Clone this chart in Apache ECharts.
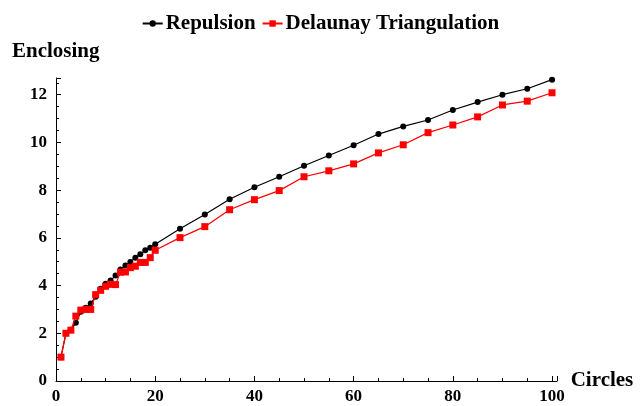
<!DOCTYPE html>
<html>
<head>
<meta charset="utf-8">
<script src="https://cdn.jsdelivr.net/npm/echarts@6/dist/echarts.min.js"></script>
<style>html,body{margin:0;padding:0;background:#fff}#c{width:641px;height:406px}</style>
</head>
<body>
<div id="c"></div>
<script>
const repulsionX = [1,2,3,4,5,6,7,8,9,10,11,12,13,14,15,16,17,18,19,20,25,30,35,40,45,50,55,60,65,70,75,80,85,90,95,100];
const repulsionY = [1.0,2.0,2.15,2.44,2.90,3.07,3.25,3.53,3.87,4.08,4.21,4.42,4.67,4.84,4.99,5.17,5.31,5.48,5.59,5.73,6.38,6.98,7.62,8.12,8.56,9.02,9.45,9.88,10.35,10.67,10.94,11.36,11.69,12.0,12.25,12.63];
const delaunayX = [1,2,3,4,5,6,7,8,9,10,11,12,13,14,15,16,17,18,19,20,25,30,35,40,45,50,55,60,65,70,75,80,85,90,95,100];
const delaunayY = [1.0,2.0,2.13,2.72,2.97,3.0,3.0,3.62,3.80,3.97,4.05,4.04,4.56,4.57,4.75,4.81,4.97,4.97,5.17,5.48,6.01,6.47,7.18,7.60,7.98,8.56,8.81,9.10,9.56,9.90,10.41,10.73,11.07,11.57,11.73,12.08];
const seriesNames = ['Repulsion', 'Delaunay Triangulation'];
const xTitle = 'Circles';
const yTitle = 'Enclosing';

const font = '"Liberation Serif", "DejaVu Serif", serif';
const chart = echarts.init(document.getElementById('c'), null, {renderer: 'canvas'});
const axisCommon = {
  axisLine: {show: true, lineStyle: {color: '#000', width: 1}},
  axisTick: {show: true, inside: true, length: 5, lineStyle: {color: '#000', width: 1}},
  minorTick: {show: true, splitNumber: 4, length: 3, lineStyle: {color: '#000', width: 1}},
  splitLine: {show: false},
  axisLabel: {color: '#000', fontFamily: font, fontWeight: 'bold', fontSize: 17},
  nameTextStyle: {color: '#000', fontFamily: font, fontWeight: 'bold', fontSize: 21}
};
chart.setOption({
  animation: false,
  backgroundColor: '#fff',
  textStyle: {fontFamily: font},
  legend: {
    top: 8, left: 'center',
    itemWidth: 20, itemHeight: 8, itemGap: 6,
    textStyle: {color: '#000', fontFamily: font, fontWeight: 'bold', fontSize: 21, padding: [0,0,0,-2]},
    data: seriesNames
  },
  grid: {left: 56, right: 84, top: 78, bottom: 25, containLabel: false},
  xAxis: Object.assign({}, axisCommon, {
    type: 'value', min: 0, max: 101, interval: 20,
    name: xTitle, nameLocation: 'end', nameGap: 10,
    nameTextStyle: Object.assign({}, axisCommon.nameTextStyle, {verticalAlign: 'middle', padding: [0,0,0,0]}),
    axisLabel: Object.assign({}, axisCommon.axisLabel, {margin: 7, formatter: v => (v % 20 === 0 ? String(v) : '')})
  }),
  yAxis: Object.assign({}, axisCommon, {
    type: 'value', min: 0, max: 12.7, interval: 2,
    name: yTitle, nameLocation: 'end', nameGap: 16,
    nameTextStyle: Object.assign({}, axisCommon.nameTextStyle, {align: 'left', padding: [0,0,0,-44]}),
    axisLabel: Object.assign({}, axisCommon.axisLabel, {margin: 9, formatter: v => (v % 2 === 0 ? String(v) : '')})
  }),
  series: [
    {
      name: seriesNames[0], type: 'line',
      data: repulsionX.map((x, i) => [x, repulsionY[i]]),
      symbol: 'circle', symbolSize: 6, showAllSymbol: true,
      lineStyle: {color: '#000', width: 1.2},
      itemStyle: {color: '#000'},
      z: 2
    },
    {
      name: seriesNames[1], type: 'line',
      data: delaunayX.map((x, i) => [x, delaunayY[i]]),
      symbol: 'rect', symbolSize: 7, showAllSymbol: true,
      lineStyle: {color: '#ff0000', width: 1.2},
      itemStyle: {color: '#ff0000'},
      z: 3
    }
  ]
});
</script>
</body>
</html>
